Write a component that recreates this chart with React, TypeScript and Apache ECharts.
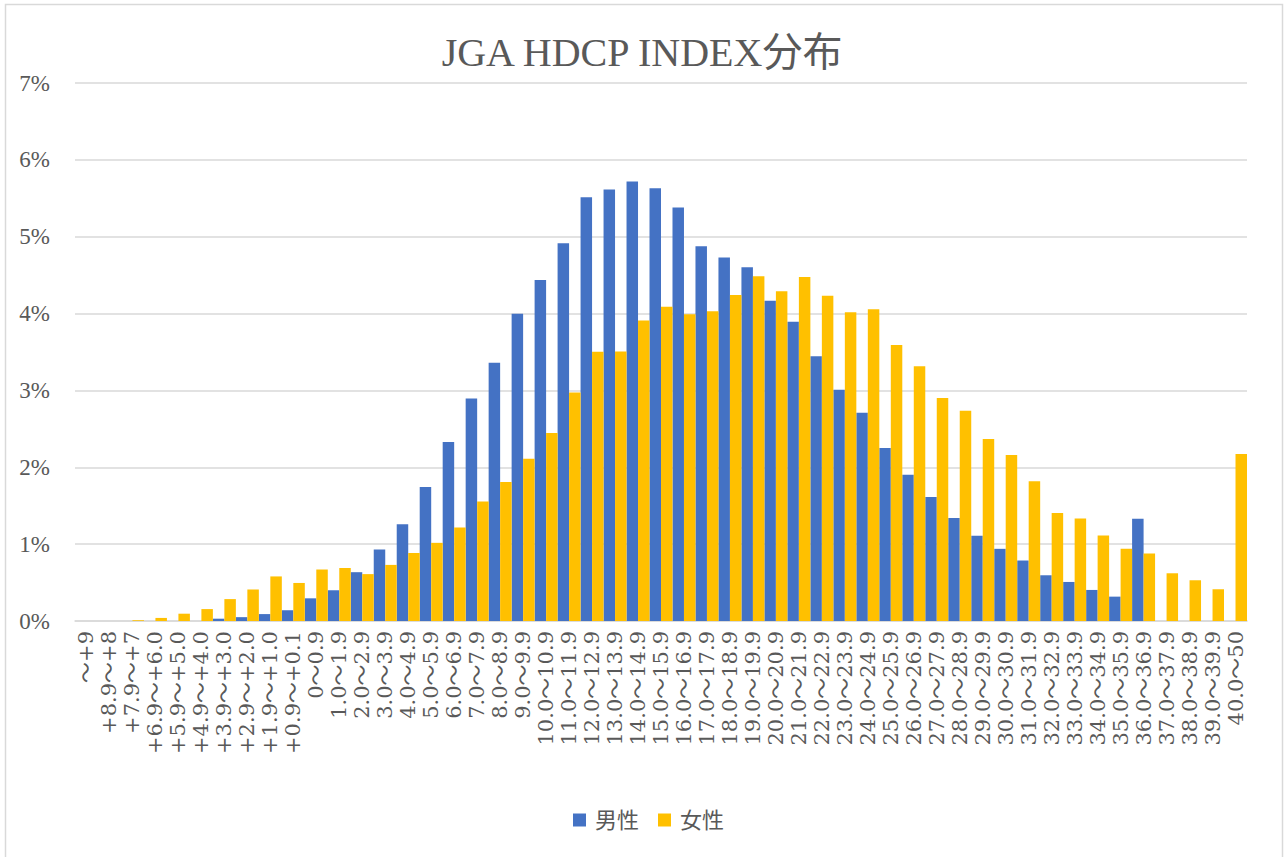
import React, { useEffect, useRef } from "react";
import * as echarts from "echarts";

const categories = [
  "〜+9", "+8.9〜+8", "+7.9〜+7", "+6.9〜+6.0", "+5.9〜+5.0", "+4.9〜+4.0",
  "+3.9〜+3.0", "+2.9〜+2.0", "+1.9〜+1.0", "+0.9〜+0.1", "0〜0.9",
  "1.0〜1.9", "2.0〜2.9", "3.0〜3.9", "4.0〜4.9", "5.0〜5.9", "6.0〜6.9",
  "7.0〜7.9", "8.0〜8.9", "9.0〜9.9", "10.0〜10.9", "11.0〜11.9", "12.0〜12.9",
  "13.0〜13.9", "14.0〜14.9", "15.0〜15.9", "16.0〜16.9", "17.0〜17.9",
  "18.0〜18.9", "19.0〜19.9", "20.0〜20.9", "21.0〜21.9", "22.0〜22.9",
  "23.0〜23.9", "24.0〜24.9", "25.0〜25.9", "26.0〜26.9", "27.0〜27.9",
  "28.0〜28.9", "29.0〜29.9", "30.0〜30.9", "31.0〜31.9", "32.0〜32.9",
  "33.0〜33.9", "34.0〜34.9", "35.0〜35.9", "36.0〜36.9", "37.0〜37.9",
  "38.0〜38.9", "39.0〜39.9", "40.0〜50",
];

const male = [
  0, 0, 0, 0, 0, 0, 0.03, 0.05, 0.09, 0.14, 0.295,
  0.4, 0.635, 0.93, 1.26, 1.743, 2.33, 2.894, 3.36, 3.998, 4.437,
  4.915, 5.515, 5.615, 5.719, 5.632, 5.38, 4.876, 4.728, 4.602, 4.168,
  3.894, 3.446, 3.01, 2.71, 2.25, 1.904, 1.612, 1.339, 1.108, 0.939,
  0.787, 0.595, 0.508, 0.404, 0.317, 1.33, 0, 0, 0, 0,
];

const female = [
  0, 0, 0.01, 0.04, 0.095, 0.155, 0.285, 0.41, 0.58, 0.495, 0.67,
  0.69, 0.61, 0.73, 0.885, 1.017, 1.217, 1.556, 1.808, 2.112, 2.447,
  2.973, 3.503, 3.507, 3.911, 4.09, 3.99, 4.03, 4.242, 4.485, 4.29,
  4.476, 4.233, 4.016, 4.055, 3.59, 3.316, 2.903, 2.734, 2.369, 2.16,
  1.817, 1.404, 1.334, 1.113, 0.939, 0.878, 0.621, 0.53, 0.413, 2.173,
];

const seriesNames = ["男性", "女性"];
const titleText = "JGA HDCP INDEX分布";

const FONT = "'Liberation Serif', 'Noto Sans CJK JP', serif";
const LABEL_FONT = "'DejaVu Serif', 'Noto Sans CJK JP', serif";
const GRAY = "#595959";

export default function App() {
  const ref = useRef<HTMLDivElement>(null);
  useEffect(() => {
    document.body.style.margin = "0";
    const chart = echarts.init(ref.current!, null, { renderer: "svg" });
    chart.setOption({
      animation: false,
      backgroundColor: "#ffffff",
      textStyle: { fontFamily: FONT },
      title: {
        text: titleText,
        left: "center",
        top: 27,
        textStyle: {
          fontFamily: FONT,
          fontSize: 40,
          fontWeight: "normal",
          color: GRAY,
        },
      },
      legend: {
        data: seriesNames,
        bottom: 26,
        left: 573,
        itemWidth: 13,
        itemHeight: 13,
        itemGap: 19,
        padding: 0,
        icon: "rect",
        textStyle: {
          fontFamily: FONT,
          fontSize: 22,
          color: GRAY,
          padding: [0, 0, 0, 4],
        },
      },
      grid: { left: 75, right: 37, top: 83, bottom: 236, containLabel: false },
      xAxis: {
        type: "category",
        data: categories,
        axisLine: { lineStyle: { color: "#D9D9D9", width: 1.5 } },
        axisTick: { show: false },
        axisLabel: {
          interval: 0,
          rotate: 90,
          fontFamily: LABEL_FONT,
          fontSize: 21,
          color: GRAY,
          margin: 10,
        },
      },
      yAxis: {
        type: "value",
        min: 0,
        max: 7,
        interval: 1,
        axisLine: { show: false },
        axisTick: { show: false },
        splitLine: { lineStyle: { color: "#D9D9D9", width: 1.5 } },
        axisLabel: {
          formatter: "{value}%",
          fontFamily: FONT,
          fontSize: 23,
          color: GRAY,
          margin: 25,
        },
      },
      series: [
        {
          name: seriesNames[0],
          type: "bar",
          data: male,
          itemStyle: { color: "#4472C4" },
          barGap: "0%",
          barCategoryGap: "0%",
        },
        {
          name: seriesNames[1],
          type: "bar",
          data: female,
          itemStyle: { color: "#FFC000" },
          barGap: "0%",
          barCategoryGap: "0%",
        },
      ],
      graphic: [
        {
          type: "rect",
          shape: { x: 5.5, y: 4.5, width: 1277, height: 870 },
          style: { fill: "none", stroke: "#D9D9D9", lineWidth: 1.5 },
          silent: true,
        },
      ],
    });
    return () => chart.dispose();
  }, []);
  return (
    <div
      ref={ref}
      style={{ position: "fixed", left: 0, top: 0, width: 1284, height: 857 }}
    />
  );
}
